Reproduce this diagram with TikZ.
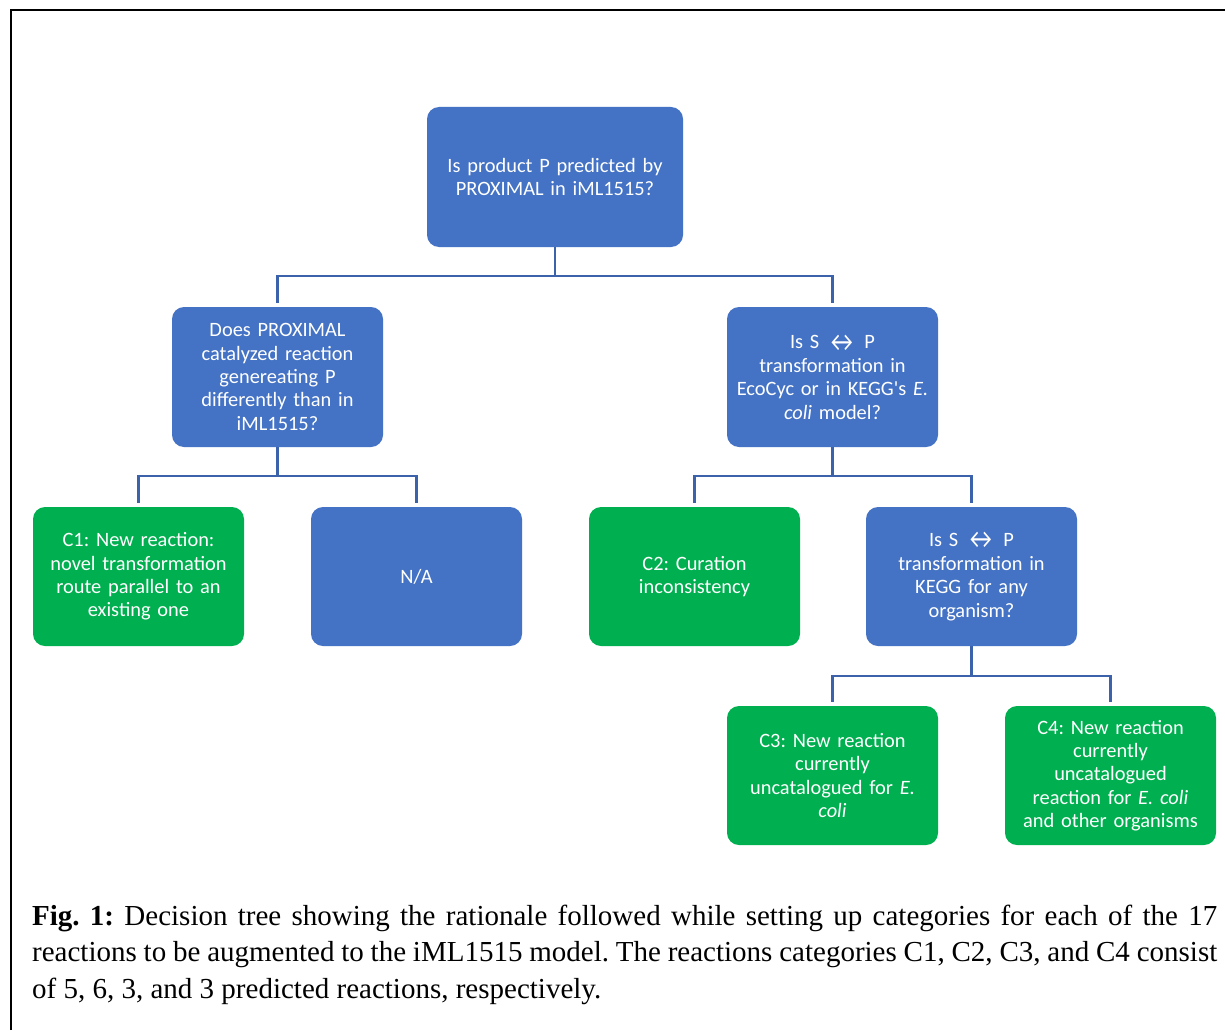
\documentclass[tikz,border=0pt]{standalone}
\usepackage{fontspec}
\usepackage{graphicx}
\setmainfont{Liberation Serif}
\newfontfamily\boxfont{Carlito}
\newcommand{\lrarr}{\raisebox{-0.1em}{\scalebox{1.2}[1.4]{↔}}}
\definecolor{boxblue}{RGB}{68,114,196}
\definecolor{boxgreen}{RGB}{0,176,80}
\definecolor{linecol}{RGB}{59,98,170}
\frenchspacing
\begin{document}
\frenchspacing
\begin{tikzpicture}[x=1pt,y=-1pt,
  box/.style={rounded corners=12pt, minimum width=211pt, minimum height=139pt,
    text width=208pt, align=center, inner sep=0pt, text=white,
    font=\frenchspacing\boxfont\fontsize{20.4}{23.4}\selectfont},
  bluebox/.style={box, fill=boxblue},
  greenbox/.style={box, fill=boxgreen},
  conn/.style={draw=linecol, line width=2.5pt},
  frameline/.style={draw=black, line width=2pt},
  capline/.style={inner sep=0pt, anchor=base west, font=\frenchspacing\fontsize{29}{36}\selectfont}]
\useasboundingbox (0,0) rectangle (1225,1030);
\fill[white] (0,0) rectangle (1225,1030);
\coordinate (fa) at (11,1030);
\coordinate (fb) at (11,10);
\coordinate (fc) at (1225,10);
\draw[frameline] (fa) -- (fb) -- (fc);

\node[bluebox, minimum width=256pt, minimum height=140pt, text width=250pt] (root) at (555,177)
  {Is product P predicted by\\PROXIMAL in iML1515?};
\node[bluebox, minimum height=140pt] (l1) at (277.5,377)
  {Does PROXIMAL\\catalyzed reaction\\genereating P\\differently than in\\iML1515?};
\node[bluebox, minimum height=140pt] (r1) at (832.5,377)
  {Is S \lrarr\ P\\transformation in\\EcoCyc or in KEGG's \textit{E.}\\\textit{coli} model?};
\node[greenbox] (c1) at (138.5,576.5)
  {C1: New reaction:\\novel transformation\\route parallel to an\\existing one};
\node[bluebox] (na) at (416.5,576.5) {N/A};
\node[greenbox] (c2) at (694.5,576.5) {C2: Curation\\inconsistency};
\node[bluebox] (r2) at (971.5,576.5)
  {Is S \lrarr\ P\\transformation in\\KEGG for any\\organism?};
\node[greenbox] (c3) at (832.5,775.5)
  {C3: New reaction\\currently\\uncatalogued for \textit{E.}\\\textit{coli}};
\node[greenbox] (c4) at (1110.5,775.5)
  {C4: New reaction\\currently\\uncatalogued\\reaction for \textit{E. coli}\\and other organisms};

\draw[conn] (root.south) -- ++(0,29) -| ([yshift=4pt]l1.north);
\draw[conn] (root.south) -- ++(0,29) -| ([yshift=4pt]r1.north);
\draw[conn] (l1.south) -- ++(0,29) -| ([yshift=4pt]c1.north);
\draw[conn] (l1.south) -- ++(0,29) -| ([yshift=4pt]na.north);
\draw[conn] (r1.south) -- ++(0,29) -| ([yshift=4pt]c2.north);
\draw[conn] (r1.south) -- ++(0,29) -| ([yshift=4pt]r2.north);
\draw[conn] (r2.south) -- ++(0,30) -| ([yshift=4pt]c3.north);
\draw[conn] (r2.south) -- ++(0,30) -| ([yshift=4pt]c4.north);

\node[capline] (cap1) at (32,925) {\makebox[1185pt][s]{\textbf{Fig. 1:} Decision tree showing the rationale followed while setting up categories for each of the 17}};
\node[capline] (cap2) at (32,961.5) {\makebox[1185pt][s]{reactions to be augmented to the iML1515 model. The reactions categories C1, C2, C3, and C4 consist}};
\node[capline] (cap3) at (32,998) {of 5, 6, 3, and 3 predicted reactions, respectively.};
\end{tikzpicture}
\end{document}
